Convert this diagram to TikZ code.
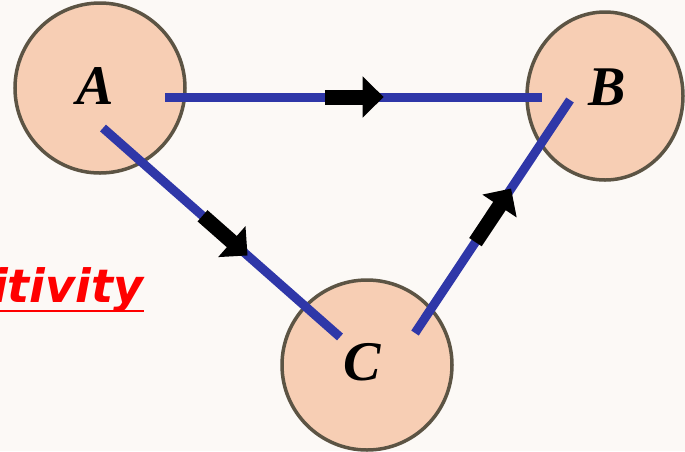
\documentclass[tikz,border=0pt]{standalone}
\usepackage{fontspec}
\usetikzlibrary{arrows.meta,calc,shapes.geometric}
\newfontfamily\lblfont{Liberation Serif}
\newfontfamily\capfont{DejaVu Sans}
\definecolor{paper}{HTML}{FCF9F6}
\definecolor{peach}{HTML}{F7CEB4}
\definecolor{rim}{HTML}{5C5444}
\definecolor{edgeblue}{HTML}{2F37A8}
\definecolor{capred}{HTML}{FF0000}
\tikzset{
  vertex/.style={draw=rim, fill=peach, line width=3.5pt, inner sep=0pt},
  vlabel/.style={font=\lblfont\bfseries\itshape\fontsize{56}{56}\selectfont, inner sep=0pt},
  edge/.style={draw=edgeblue, line width=9pt},
  flow/.style={draw=black, line width=15pt, -{Triangle[length=21pt,width=40pt]}},
}
\begin{document}
\begin{tikzpicture}[x=1pt,y=-1pt]
  \useasboundingbox (0,0) rectangle (685,451);
  \fill[paper] (0,0) rectangle (685,451);
  \clip (0,0) rectangle (685,451);

  % the three sets
  \node[vertex, circle, minimum size=170pt] (A) at (100,88) {};
  \node[vertex, ellipse, minimum width=156pt, minimum height=168pt] (B) at (605,96) {};
  \node[vertex, circle, minimum size=170pt] (C) at (367,365) {};

  \node[vlabel] (la) at (95,86) {A};
  \node[vlabel] (lb) at (607,87) {B};
  \node[vlabel] (lc) at (362,362) {C};

  % ends of the connecting segments
  \coordinate (ab1) at (165,97);
  \coordinate (ab2) at (542,97);
  \coordinate (ac1) at (103,128);
  \coordinate (ac2) at (340,337);
  \coordinate (cb1) at (415,333);
  \coordinate (cb2) at (570,100);

  \draw[edge] (ab1) -- (ab2);
  \draw[edge] (ac1) -- (ac2);
  \draw[edge] (cb1) -- (cb2);

  % direction markers
  \draw[flow] ($(ab1)!0.424!(ab2)$) -- ($(ab1)!0.58!(ab2)$);
  \draw[flow] ($(ac1)!0.42!(ac2)$) -- ($(ac1)!0.61!(ac2)$);
  \draw[flow] ($(cb1)!0.39!(cb2)$) -- ($(cb1)!0.62!(cb2)$);

  % caption
  \node[anchor=base west, inner sep=0pt, text=capred,
        font=\capfont\bfseries\itshape\fontsize{46}{46}\selectfont] (cap) at (-8,302) {itivity};
  \draw[capred, line width=2.5pt] ([yshift=-9pt]cap.base west) -- ([yshift=-9pt]cap.base east);
\end{tikzpicture}
\end{document}
